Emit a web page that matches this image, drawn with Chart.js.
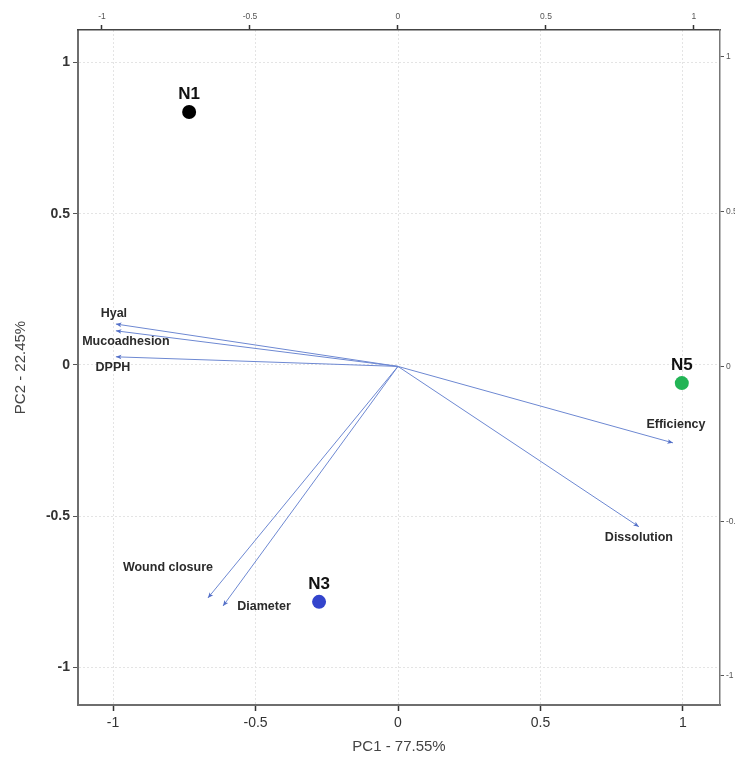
<!DOCTYPE html>
<html>
<head>
<meta charset="utf-8">
<script src="https://cdn.jsdelivr.net/npm/chart.js@4.4.1/dist/chart.umd.min.js"></script>
<style>
html,body{margin:0;padding:0;background:#fff;}
#wrap{width:735px;height:758px;}
</style>
</head>
<body>
<div id="wrap"><canvas id="c" width="735" height="758"></canvas></div>
<script>
// ---- data ----
const sampleLabels = ['N1', 'N3', 'N5'];
const sampleX = [-0.733, -0.277, 0.996];
const sampleY = [0.836, -0.783, -0.060];
const sampleColors = ['#000000', '#3344cc', '#22b455'];

const varLabels = ['Hyal', 'Mucoadhesion', 'DPPH', 'Efficiency', 'Dissolution', 'Wound closure', 'Diameter'];
const varX = [-0.953, -0.953, -0.953, 0.929, 0.814, -0.642, -0.591];
const varY = [0.137, 0.115, 0.031, -0.247, -0.518, -0.748, -0.774];

const mainTicks = [-1, -0.5, 0, 0.5, 1];
const loadTicks = [-1, -0.5, 0, 0.5, 1];
const xTitle = 'PC1 - 77.55%';
const yTitle = 'PC2 - 22.45%';

// label placement (pixels, relative to arrow tip) - styling only
const varLabelOffsets = [[-2,-10], [10,11], [-3,11], [3,-18], [0,11], [-40,-30], [41,1]];

const datasets = [];
datasets.push({
  type: 'scatter',
  label: 'samples',
  data: sampleX.map((x, i) => ({x: x, y: sampleY[i]})),
  xAxisID: 'x', yAxisID: 'y',
  pointRadius: 7, pointHoverRadius: 7,
  pointBackgroundColor: sampleColors,
  pointBorderColor: sampleColors,
  pointBorderWidth: 0,
  order: 0
});
varLabels.forEach((lab, i) => {
  datasets.push({
    type: 'line',
    label: lab,
    data: [{x: 0, y: 0}, {x: varX[i], y: varY[i]}],
    xAxisID: 'x2', yAxisID: 'y2',
    borderColor: '#6d88d2',
    borderWidth: 1,
    pointRadius: 0,
    fill: false,
    tension: 0,
    order: 1,
    isArrow: true
  });
});

const annotatePlugin = {
  id: 'annotate',
  afterDatasetsDraw(chart) {
    const ctx = chart.ctx;
    ctx.save();
    chart.data.datasets.forEach((ds, di) => {
      if (!ds.isArrow) return;
      const pts = chart.getDatasetMeta(di).data;
      const p0 = pts[0], p1 = pts[1];
      const ang = Math.atan2(p1.y - p0.y, p1.x - p0.x);
      const L = 6, W = 0.4;
      ctx.fillStyle = '#5470c8';
      ctx.beginPath();
      ctx.moveTo(p1.x, p1.y);
      ctx.lineTo(p1.x - L * Math.cos(ang - W), p1.y - L * Math.sin(ang - W));
      ctx.lineTo(p1.x - L * 0.7 * Math.cos(ang), p1.y - L * 0.7 * Math.sin(ang));
      ctx.lineTo(p1.x - L * Math.cos(ang + W), p1.y - L * Math.sin(ang + W));
      ctx.closePath();
      ctx.fill();
    });
    // variable labels
    ctx.font = 'bold 12.5px "Liberation Sans", Arial, sans-serif';
    ctx.fillStyle = '#2b2b2b';
    ctx.textBaseline = 'middle';
    ctx.textAlign = 'center';
    chart.data.datasets.forEach((ds, di) => {
      if (!ds.isArrow) return;
      const vi = varLabels.indexOf(ds.label);
      const p1 = chart.getDatasetMeta(di).data[1];
      const off = varLabelOffsets[vi];
      ctx.fillText(ds.label, p1.x + off[0], p1.y + off[1]);
    });
    // sample labels
    const sm = chart.getDatasetMeta(0).data;
    ctx.font = 'bold 17px "Liberation Sans", Arial, sans-serif';
    ctx.fillStyle = '#111';
    sm.forEach((el, i) => {
      ctx.fillText(sampleLabels[i], el.x, el.y - 18);
    });
    ctx.restore();
  }
};

function fixTicks(arr) {
  return function(scale) { scale.ticks = arr.map(v => ({value: v})); };
}

new Chart(document.getElementById('c'), {
  data: {datasets: datasets},
  plugins: [annotatePlugin],
  options: {
    responsive: false,
    devicePixelRatio: 1,
    animation: false,
    layout: {padding: 0},
    plugins: {legend: {display: false}, tooltip: {enabled: false}},
    scales: {
      x: {
        type: 'linear', position: 'bottom',
        min: -1.123, max: 1.13,
        afterBuildTicks: fixTicks(mainTicks),
        afterFit(s) { s.height = 53; },
        grid: {color: '#e4e4e4', lineWidth: 1, tickColor: '#333', tickLength: 6, tickWidth: 1.5},
        border: {display: true, color: '#6e6e6e', width: 2, dash: [2, 2]},
        ticks: {color: '#333', font: {family: '"Liberation Sans", Arial, sans-serif', size: 14}, padding: 4, maxRotation: 0,
          callback: v => String(v)},
        title: {display: true, text: xTitle, color: '#444', font: {family: '"Liberation Sans", Arial, sans-serif', size: 15}, padding: {top: 0, bottom: 2}}
      },
      y: {
        type: 'linear', position: 'left',
        min: -1.124, max: 1.107,
        afterBuildTicks: fixTicks(mainTicks),
        afterFit(s) { s.width = 78; },
        grid: {color: '#e4e4e4', lineWidth: 1, tickColor: '#555', tickLength: 5, tickWidth: 1},
        border: {display: true, color: '#6e6e6e', width: 2, dash: [2, 2]},
        ticks: {color: '#333', font: {family: '"Liberation Sans", Arial, sans-serif', size: 14, weight: 'bold'}, padding: 3,
          callback: v => String(v)},
        title: {display: true, text: yTitle, color: '#444', font: {family: '"Liberation Sans", Arial, sans-serif', size: 15}, padding: {top: 12, bottom: 0}}
      },
      x2: {
        type: 'linear', position: 'top',
        min: -1.081, max: 1.088,
        afterBuildTicks: fixTicks(loadTicks),
        afterFit(s) { s.height = 30; },
        grid: {drawOnChartArea: false, tickColor: '#333', tickLength: 5, tickWidth: 1.5},
        border: {display: true, color: '#444', width: 1.5},
        ticks: {color: '#555', font: {family: '"Liberation Sans", Arial, sans-serif', size: 8.5}, padding: 3,
          callback: v => String(v)}
      },
      y2: {
        type: 'linear', position: 'right',
        min: -1.094, max: 1.087,
        afterBuildTicks: fixTicks(loadTicks),
        afterFit(s) { s.width = 15; },
        grid: {drawOnChartArea: false, tickColor: '#555', tickLength: 4, tickWidth: 1},
        border: {display: true, color: '#777', width: 1.5},
        ticks: {color: '#555', font: {family: '"Liberation Sans", Arial, sans-serif', size: 8.5}, padding: 2,
          callback: v => String(v)}
      }
    }
  }
});
</script>
</body>
</html>
